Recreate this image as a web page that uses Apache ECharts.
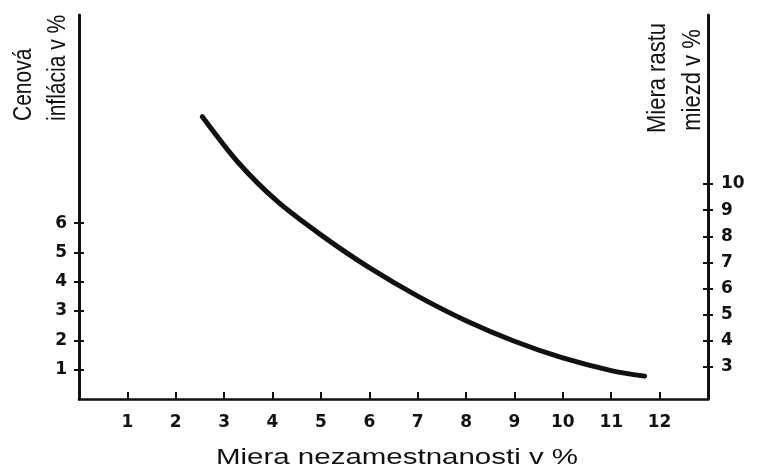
<!DOCTYPE html>
<html>
<head>
<meta charset="utf-8">
<script src="https://cdn.jsdelivr.net/npm/echarts@6/dist/echarts.min.js"></script>
<style>
html, body { margin: 0; padding: 0; background: #fff; }
#main { width: 758px; height: 469px; }
</style>
</head>
<body>
<div id="main"></div>
<script>
// Phillipsova krivka - odčítané z obrázka
var nezamestnanost = [2.55, 3.3, 4.1, 5, 6, 7, 8, 9, 10, 11, 11.69];
var inflacia = [9.63, 8.05, 6.74, 5.6, 4.48, 3.51, 2.67, 1.97, 1.4, 0.97, 0.78];

var xTicks = [1, 2, 3, 4, 5, 6, 7, 8, 9, 10, 11, 12];
var leftTicks = [1, 2, 3, 4, 5, 6];
var rightTicks = [3, 4, 5, 6, 7, 8, 9, 10];

var leftTitle = ['Cenová', 'inflácia v %'];
var rightTitle = ['Miera rastu', 'miezd v %'];
var xTitle = 'Miera nezamestnanosti v %';

var ink = '#111';
var titleFont = '"Liberation Sans", Arial, sans-serif';

var points = [];
for (var i = 0; i < nezamestnanost.length; i++) points.push([nezamestnanost[i], inflacia[i]]);

// zvislý text (číta sa zdola nahor)
function VerticalText(txt, x, y, align, size, sy) {
	return {
		type: 'text',
		x: x, y: y,
		rotation: Math.PI / 2,
		scaleY: sy,
		style: {
			text: txt,
			font: size + 'px ' + titleFont,
			fill: ink,
			align: align, textAlign: align,
			verticalAlign: 'middle', textVerticalAlign: 'middle'
		}
	};
}

function YAxis(pos, min, max, ticks, inner) {
	return {
		type: 'value',
		position: pos,
		min: min, max: max,
		axisLine: { show: !inner, lineStyle: { color: ink, width: 3 } },
		axisTick: { show: true, inside: inner, length: 5, customValues: ticks, lineStyle: { color: ink, width: 2 } },
		axisLabel: {
			show: !inner,
			customValues: ticks,
			margin: pos === 'left' ? 12 : 13,
			color: ink,
			fontSize: 17,
			fontWeight: 'bold',
			fontFamily: 'DejaVu Sans'
		},
		splitLine: { show: false }
	};
}

var chart = echarts.init(document.getElementById('main'));
chart.setOption({
	backgroundColor: '#fff',
	animation: false,
	grid: { left: 79, right: 50, top: 15, bottom: 70 },
	graphic: [
		VerticalText(leftTitle[0], 24, 121, 'left', 21, 1.25),
		VerticalText(leftTitle[1], 58, 121, 'left', 21, 1.25),
		VerticalText(rightTitle[0], 658, 78, 'center', 22, 1.2),
		VerticalText(rightTitle[1], 693, 80, 'center', 22, 1.2),
		{
			type: 'text',
			x: 397, y: 458,
			scaleX: 1.34,
			style: {
				text: xTitle,
				font: '22px ' + titleFont,
				fill: ink,
				align: 'center', textAlign: 'center',
				verticalAlign: 'middle', textVerticalAlign: 'middle'
			}
		}
	],
	xAxis: {
		type: 'value',
		min: 0, max: 13,
		axisLine: { lineStyle: { color: ink, width: 2.5 } },
		axisTick: { inside: true, length: 7, customValues: xTicks, lineStyle: { color: ink, width: 2 } },
		axisLabel: { customValues: xTicks, margin: 15, color: ink, fontSize: 17, fontWeight: 'bold', fontFamily: 'DejaVu Sans' },
		splitLine: { show: false }
	},
	yAxis: [
		YAxis('left', 0, 13.1, leftTicks, false),
		YAxis('left', 0, 13.1, leftTicks, true),
		YAxis('right', 1.776, 16.465, rightTicks, false),
		YAxis('right', 1.776, 16.465, rightTicks, true)
	],
	series: [{
		type: 'line',
		yAxisIndex: 0,
		smooth: 0.3,
		showSymbol: false,
		symbol: 'none',
		lineStyle: { color: ink, width: 5, cap: 'round' },
		data: points
	}]
});
</script>
</body>
</html>
